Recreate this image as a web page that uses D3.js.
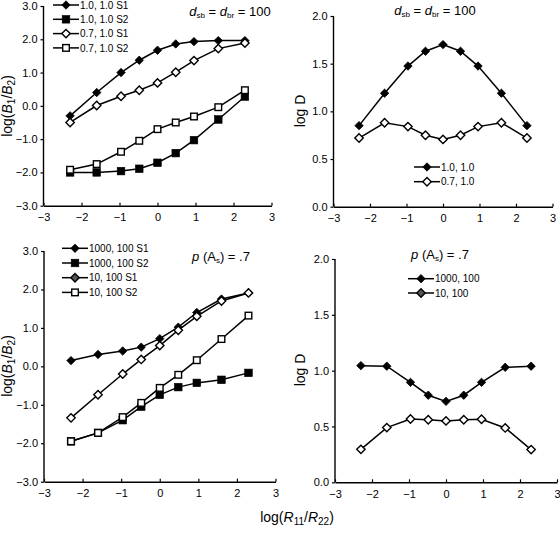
<!DOCTYPE html>
<html><head><meta charset="utf-8">
<script src="https://cdn.jsdelivr.net/npm/d3@7"></script>
<style>
body{margin:0;background:#fff;}
text{font-family:"Liberation Sans",Arial,sans-serif;fill:#000;}
</style></head>
<body><svg id="c" width="560" height="534"></svg>
<script>
// ---- data ----
const xVals = [-2.3, -1.6, -0.96, -0.48, 0, 0.48, 0.96, 1.6, 2.3];
const xTicks = [-3, -2, -1, 0, 1, 2, 3];
const ratioTicks = [-3, -2, -1, 0, 1, 2, 3];
const logDTicks = [0, 0.5, 1, 1.5, 2];

const tlNames = ["1.0, 1.0 S1", "1.0, 1.0 S2", "0.7, 1.0 S1", "0.7, 1.0 S2"];
const tl_s1_10 = [-0.3, 0.4, 1.0, 1.37, 1.67, 1.86, 1.93, 1.96, 1.96];
const tl_s2_10 = [-2.0, -2.0, -1.96, -1.89, -1.71, -1.42, -1.03, -0.41, 0.28];
const tl_s1_07 = [-0.5, 0.01, 0.29, 0.47, 0.69, 1.01, 1.36, 1.72, 1.89];
const tl_s2_07 = [-1.92, -1.75, -1.38, -1.05, -0.7, -0.5, -0.32, -0.04, 0.47];

const trNames = ["1.0, 1.0", "0.7, 1.0"];
const tr_10 = [0.85, 1.19, 1.475, 1.63, 1.70, 1.63, 1.475, 1.19, 0.85];
const tr_07 = [0.72, 0.88, 0.84, 0.75, 0.706, 0.75, 0.84, 0.88, 0.72];

const blNames = ["1000, 100 S1", "1000, 100 S2", "10, 100 S1", "10, 100 S2"];
const bl_1000_s1 = [0.15, 0.31, 0.4, 0.5, 0.72, 1.02, 1.4, 1.75, 1.91];
const bl_1000_s2 = [-1.95, -1.73, -1.4, -1.05, -0.74, -0.54, -0.43, -0.35, -0.17];
const bl_10_s1 = [-1.34, -0.74, -0.2, 0.18, 0.54, 0.94, 1.3, 1.7, 1.91];
const bl_10_s2 = [-1.95, -1.73, -1.32, -0.95, -0.56, -0.22, 0.16, 0.71, 1.32];

const brNames = ["1000, 100", "10, 100"];
const br_1000 = [1.045, 1.04, 0.895, 0.78, 0.725, 0.78, 0.895, 1.03, 1.04];
const br_10 = [0.295, 0.49, 0.567, 0.56, 0.55, 0.56, 0.565, 0.487, 0.293];

// ---- drawing ----
const svg = d3.select("#c");

function marker(g, type, x, y, legendFill) {
  if (type === "fd" || type === "od") {
    const r = 4.2;
    g.append("path")
      .attr("d", `M${x},${y - r}L${x + r},${y}L${x},${y + r}L${x - r},${y}Z`)
      .attr("fill", type === "fd" ? "#000" : (legendFill || "#fff"))
      .attr("stroke", "#000").attr("stroke-width", type === "fd" ? 0.8 : 1.4);
  } else {
    const r = type === "fs" ? 3.8 : 3.3;
    g.append("rect")
      .attr("x", x - r).attr("y", y - r).attr("width", 2 * r).attr("height", 2 * r)
      .attr("fill", type === "fs" ? "#000" : "#fff")
      .attr("stroke", "#000").attr("stroke-width", type === "fs" ? 0.6 : 1.4);
  }
}

function panel(cfg) {
  const g = svg.append("g");
  const x = d3.scaleLinear().domain([-3, 3]).range(cfg.xr);
  const y = d3.scaleLinear().domain(cfg.yd).range(cfg.yr);
  const fmt = d3.format(".1f");
  const ya = g.append("g").attr("transform", `translate(${cfg.xr[0]},0)`)
    .call(d3.axisLeft(y).tickValues(cfg.yt).tickFormat(fmt).tickSize(3).tickPadding(3));
  const xa = g.append("g").attr("transform", `translate(0,${cfg.yr[0]})`)
    .call(d3.axisBottom(x).tickValues(xTicks).tickFormat(d3.format("d")).tickSizeInner(-3).tickSizeOuter(0).tickPadding(8));
  [ya, xa].forEach(a => {
    a.select(".domain").attr("stroke-width", 1.4);
    a.selectAll(".tick line").attr("stroke-width", 1.2);
    a.selectAll("text").style("font-size", "11px").attr("fill", "#000");
  });
  ya.select(".domain").attr("d", `M0,${cfg.yr[0]}V${cfg.yr[1]}`);
  const line = d3.line().x((d, i) => x(xVals[i])).y(d => y(d));
  cfg.series.forEach(s => {
    g.append("path").datum(s.v).attr("d", line)
      .attr("fill", "none").attr("stroke", "#000").attr("stroke-width", 1.5);
  });
  cfg.series.forEach(s => {
    s.v.forEach((v, i) => marker(g, s.t, x(xVals[i]), y(v)));
  });
  cfg.series.forEach((s, i) => {
    const ly = cfg.leg.y + i * cfg.leg.dy;
    g.append("line").attr("x1", cfg.leg.x).attr("x2", cfg.leg.x + 26)
      .attr("y1", ly).attr("y2", ly).attr("stroke", "#000").attr("stroke-width", 1.5);
    marker(g, s.t, cfg.leg.x + 13, ly, s.t === "od" ? cfg.leg.odFill : null);
    g.append("text").attr("x", cfg.leg.x + 27).attr("y", ly + 3.6)
      .style("font-size", "10px").text(s.name);
  });
  const yl = g.append("text")
    .attr("transform", `translate(${cfg.ylab.x},${cfg.ylab.y}) rotate(-90)`)
    .attr("text-anchor", "middle").style("font-size", "14px");
  if (cfg.ylab.ratio) {
    yl.append("tspan").text("log(");
    yl.append("tspan").style("font-style", "italic").text("B");
    yl.append("tspan").attr("dy", 3).style("font-size", "10px").text("1");
    yl.append("tspan").attr("dy", -3).text("/");
    yl.append("tspan").style("font-style", "italic").text("B");
    yl.append("tspan").attr("dy", 3).style("font-size", "10px").text("2");
    yl.append("tspan").attr("dy", -3).text(")");
  } else {
    yl.text("log D");
  }
  const t = g.append("text").attr("x", cfg.title.x).attr("y", cfg.title.y)
    .attr("text-anchor", "middle").style("font-size", "13px");
  if (cfg.title.kind === "d") {
    t.append("tspan").style("font-style", "italic").text("d");
    t.append("tspan").attr("dy", 2).style("font-size", "8px").text("sb");
    t.append("tspan").attr("dy", -2).text(" = ");
    t.append("tspan").style("font-style", "italic").text("d");
    t.append("tspan").attr("dy", 2).style("font-size", "8px").text("br");
    t.append("tspan").attr("dy", -2).text(" = 100");
  } else {
    t.append("tspan").style("font-style", "italic").text("p");
    t.append("tspan").text(" (A");
    t.append("tspan").attr("dy", 2).style("font-size", "8px").text("s");
    t.append("tspan").attr("dy", -2).text(") = .7");
  }
}

panel({
  xr: [43.5, 271.5], yd: [-3, 3], yr: [205.7, 6], yt: ratioTicks,
  series: [
    {name: tlNames[0], v: tl_s1_10, t: "fd"},
    {name: tlNames[1], v: tl_s2_10, t: "fs"},
    {name: tlNames[2], v: tl_s1_07, t: "od"},
    {name: tlNames[3], v: tl_s2_07, t: "os"}],
  leg: {x: 53, y: 5, dy: 14.3, odFill: "#fff"},
  ylab: {x: 12, y: 106, ratio: true},
  title: {x: 230, y: 16, kind: "d"}
});
panel({
  xr: [333.5, 552.5], yd: [0, 2], yr: [206.7, 16], yt: logDTicks,
  series: [
    {name: trNames[0], v: tr_10, t: "fd"},
    {name: trNames[1], v: tr_07, t: "od"}],
  leg: {x: 414, y: 167, dy: 14.7, odFill: "#fff"},
  ylab: {x: 305, y: 111, ratio: false},
  title: {x: 435, y: 15, kind: "d"}
});
panel({
  xr: [44, 275.5], yd: [-3, 3], yr: [481.7, 251], yt: ratioTicks,
  series: [
    {name: blNames[0], v: bl_1000_s1, t: "fd"},
    {name: blNames[1], v: bl_1000_s2, t: "fs"},
    {name: blNames[2], v: bl_10_s1, t: "od"},
    {name: blNames[3], v: bl_10_s2, t: "os"}],
  leg: {x: 62, y: 248.3, dy: 14.7, odFill: "#555"},
  ylab: {x: 12, y: 366, ratio: true},
  title: {x: 221, y: 261, kind: "p"}
});
panel({
  xr: [335, 557], yd: [0, 2], yr: [482.3, 259], yt: logDTicks,
  series: [
    {name: brNames[0], v: br_1000, t: "fd"},
    {name: brNames[1], v: br_10, t: "od"}],
  leg: {x: 408, y: 278.7, dy: 14.3, odFill: "#555"},
  ylab: {x: 305, y: 370, ratio: false},
  title: {x: 440, y: 259, kind: "p"}
});

const xl = svg.append("text").attr("x", 297).attr("y", 522)
  .attr("text-anchor", "middle").style("font-size", "14px");
xl.append("tspan").text("log(");
xl.append("tspan").style("font-style", "italic").text("R");
xl.append("tspan").attr("dy", 3).style("font-size", "10px").text("11");
xl.append("tspan").attr("dy", -3).text("/");
xl.append("tspan").style("font-style", "italic").text("R");
xl.append("tspan").attr("dy", 3).style("font-size", "10px").text("22");
xl.append("tspan").attr("dy", -3).text(")");
</script></body></html>
